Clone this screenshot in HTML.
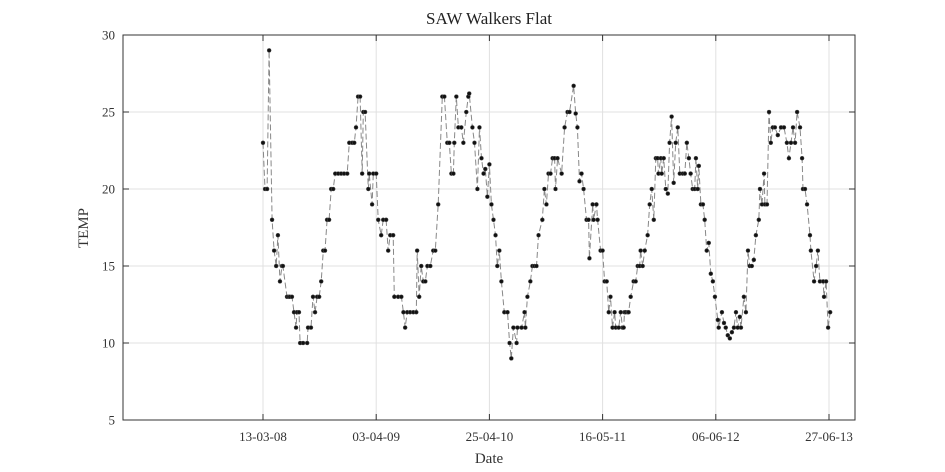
<!DOCTYPE html>
<html><head><meta charset="utf-8"><style>
html,body{margin:0;padding:0;background:#fff;}
svg{display:block;font-family:"Liberation Serif",serif;}
</style></head><body>
<svg id="chart" width="945" height="472" viewBox="0 0 945 472">
<text x="489" y="24" text-anchor="middle" font-size="17" fill="#222">SAW Walkers Flat</text>
<text x="489" y="463" text-anchor="middle" font-size="15" fill="#333">Date</text>
<text x="88" y="228" text-anchor="middle" font-size="15" fill="#333" transform="rotate(-90 88 228)">TEMP</text>
<g id="grid"></g><g id="series"></g><g id="axes"></g>
</svg>
<script>
const xTickDays=[0,387,774,1161,1548,1935];
const xTickLabels=["13-03-08","03-04-09","25-04-10","16-05-11","06-06-12","27-06-13"];
const yTicks=[5,10,15,20,25,30];
const days=[0,7,14,21,31,38,45,51,58,65,68,82,88,92,99,106,113,116,123,127,137,151,154,164,171,178,185,192,199,206,212,219,226,233,240,247,257,267,277,288,295,305,312,318,325,332,339,343,349,360,363,373,377,387,394,404,411,421,428,435,445,449,462,473,480,486,493,503,514,524,527,534,541,548,555,562,572,582,589,599,613,620,630,637,644,651,654,661,668,678,685,695,702,705,716,723,733,740,747,754,760,767,774,781,788,795,801,808,815,825,836,843,849,856,867,870,884,894,897,904,914,921,928,935,942,955,962,969,976,983,990,997,1000,1007,1021,1031,1041,1048,1062,1069,1075,1082,1089,1096,1106,1113,1116,1127,1130,1140,1144,1154,1161,1168,1175,1182,1188,1195,1202,1206,1216,1223,1229,1233,1236,1240,1247,1250,1257,1267,1274,1281,1288,1291,1298,1305,1315,1322,1329,1336,1343,1349,1352,1360,1363,1370,1377,1384,1390,1397,1404,1411,1418,1425,1435,1442,1449,1456,1462,1469,1476,1480,1486,1490,1497,1504,1510,1517,1524,1531,1538,1545,1555,1558,1569,1576,1582,1589,1596,1603,1610,1617,1623,1630,1634,1644,1651,1658,1664,1671,1678,1685,1695,1699,1706,1713,1716,1723,1730,1736,1743,1750,1760,1771,1781,1791,1798,1805,1812,1819,1826,1836,1843,1846,1853,1860,1870,1873,1884,1891,1897,1904,1915,1918,1925,1932,1939];
const temps=[23,20,20,29,18,16,15,17,14,15,15,13,13,13,13,12,11,12,12,10,10,10,11,11,13,12,13,13,14,16,16,18,18,20,20,21,21,21,21,21,23,23,23,24,26,26,21,25,25,20,21,19,21,21,18,17,18,18,16,17,17,13,13,13,12,11,12,12,12,12,16,13,15,14,14,15,15,16,16,19,26,26,23,23,21,21,23,26,24,24,23,25,26,26.2,24,23,20,24,22,21,21.3,19.5,21.6,19,18,17,15,16,14,12,12,10,9,11,10,11,11,12,11,13,14,15,15,15,17,18,20,19,21,21,22,22,20,22,21,24,25,25,26.7,24.9,24,20.5,21,20,18,18,15.5,19,18,19,18,16,16,14,14,12,13,11,12,11,11,12,11,11,12,12,12,12,13,14,14,15,15,16,15,16,17,19,20,18,22,22,21,22,21,22,20,19.7,23,24.7,20.4,23,24,21,21,21,23,22,21,20,20,22,20,21.5,19,19,18,16,16.5,14.5,14,13,11.5,11,12,11.3,11,10.5,10.3,10.7,11,12,11,11.7,11,13,12,16,15,15,15.4,17,18,20,19,21,19,19,25,23,24,24,23.5,24,24,23,22,23,24,23,25,24,22,20,20,19,17,16,14,15,16,14,14,13,14,11,12];
const L=123,R=855,T=35,B=420;
const x0=263,pxPerDay=(829-263)/1935;
function xs(d){return x0+d*pxPerDay;}
function ys(v){return B-(v-5)*(B-T)/25;}
const NS="http://www.w3.org/2000/svg";
function mk(tag,attrs,parent){const e=document.createElementNS(NS,tag);for(const k in attrs)e.setAttribute(k,attrs[k]);parent.appendChild(e);return e;}
const grid=document.getElementById('grid'),series=document.getElementById('series'),axes=document.getElementById('axes');
xTickDays.forEach((d,i)=>{
  const x=xs(d);
  const g=mk('line',{x1:x,x2:x,y1:T,y2:B,stroke:'#e0e0e0','stroke-width':1},grid);
  
  
  mk('line',{x1:x,x2:x,y1:B,y2:B-6,stroke:'#333'},axes);
  mk('line',{x1:x,x2:x,y1:T,y2:T+6,stroke:'#333'},axes);
  const t=mk('text',{x:x,y:441,'text-anchor':'middle','font-size':13,fill:'#333'},axes);
  t.textContent=xTickLabels[i];
  
  
});
yTicks.forEach(v=>{
  const y=ys(v);
  const g=mk('line',{x1:L,x2:R,y1:y,y2:y,stroke:'#e0e0e0','stroke-width':1},grid);
  
  
  mk('line',{x1:L,x2:L+6,y1:y,y2:y,stroke:'#333'},axes);
  mk('line',{x1:R,x2:R-6,y1:y,y2:y,stroke:'#333'},axes);
  const t=mk('text',{x:L-8,y:y+4.5,'text-anchor':'end','font-size':13,fill:'#333'},axes);
  t.textContent=v;
  
  
});
const box=mk('rect',{x:L,y:T,width:R-L,height:B-T,fill:'none',stroke:'#333','stroke-width':1},axes);


const pts=days.map((d,i)=>xs(d).toFixed(1)+','+ys(temps[i]).toFixed(1)).join(' ');
const line=mk('polyline',{points:pts,fill:'none',stroke:'#888','stroke-width':1,'stroke-dasharray':'6,3'},series);


days.forEach((d,i)=>{
  const c=mk('circle',{cx:xs(d),cy:ys(temps[i]),r:2,fill:'#111',stroke:'#555','stroke-width':0.5},series);
  
  
});
</script>
</body></html>
